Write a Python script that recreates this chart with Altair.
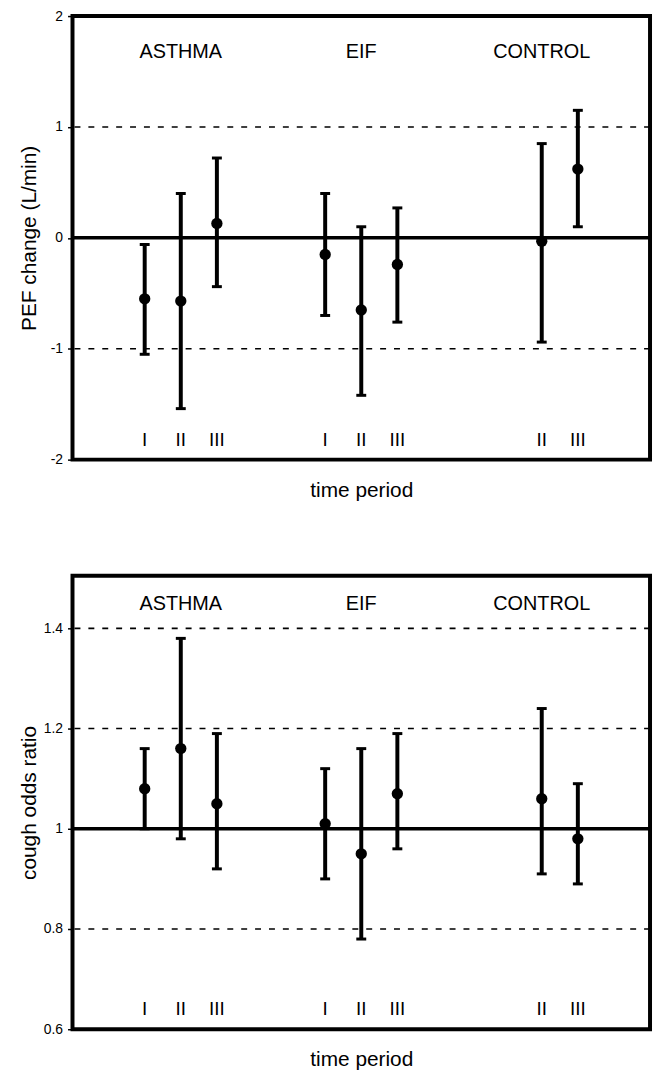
import altair as alt
import pandas as pd

# ---- data ----
groups = ["ASTHMA", "ASTHMA", "ASTHMA", "EIF", "EIF", "EIF", "CONTROL", "CONTROL"]
periods = ["I", "II", "III", "I", "II", "III", "II", "III"]
slot = [0, 1, 2, 5, 6, 7, 11, 12]          # x position of each time period
group_names = ["ASTHMA", "EIF", "CONTROL"]
group_center = [1, 6, 11]

pef_mean = [-0.55, -0.57, 0.13, -0.15, -0.65, -0.24, -0.03, 0.62]
pef_lo = [-1.05, -1.54, -0.44, -0.70, -1.42, -0.76, -0.94, 0.10]
pef_hi = [-0.06, 0.40, 0.72, 0.40, 0.10, 0.27, 0.85, 1.15]

cough_mean = [1.08, 1.16, 1.05, 1.01, 0.95, 1.07, 1.06, 0.98]
cough_lo = [1.00, 0.98, 0.92, 0.90, 0.78, 0.96, 0.91, 0.89]
cough_hi = [1.16, 1.38, 1.19, 1.12, 1.16, 1.19, 1.24, 1.09]

pef_ticks = [-2, -1, 0, 1, 2]
cough_ticks = [0.6, 0.8, 1, 1.2, 1.4]

FONT = "Liberation Sans"


def panel(mean, lo, hi, ytitle, domain, ticks, grid_vals, ref_val, label_y, numeral_y,
          height, title_pad):
    df = pd.DataFrame({"group": groups, "period": periods, "slot": slot,
                       "mean": mean, "lo": lo, "hi": hi, "ny": [numeral_y] * len(slot)})
    gl = pd.DataFrame({"name": group_names, "x": group_center, "y": [label_y] * 3})
    grid = pd.DataFrame({"y": grid_vals})
    ref = pd.DataFrame({"y": [ref_val]})

    xscale = alt.Scale(domain=[-2, 14], nice=False, zero=False)
    xaxis = alt.Axis(labels=False, ticks=False, domain=False, grid=False,
                     title="time period", titleFontSize=21, titleFontWeight="normal",
                     titleFont=FONT, titlePadding=20, titleColor="black")
    yscale = alt.Scale(domain=domain, nice=False, zero=False)
    yaxis = alt.Axis(values=ticks, labelExpr="datum.value + ''", grid=False, domain=False,
                     tickSize=5, tickColor="black", tickWidth=1.5,
                     labelFont=FONT, labelFontSize=14, labelColor="black",
                     labelPadding=5, title=ytitle, titleFont=FONT, titleFontSize=21,
                     titleFontWeight="normal", titleColor="black", titlePadding=title_pad)

    def X(f):
        return alt.X(f, type="quantitative", scale=xscale, axis=xaxis)

    def Y(f):
        return alt.Y(f, type="quantitative", scale=yscale, axis=yaxis)

    g = alt.Chart(grid).mark_rule(color="black", strokeWidth=1.6, strokeDash=[6, 8]).encode(y=Y("y"))
    r = alt.Chart(ref).mark_rule(color="black", strokeWidth=3.5).encode(y=Y("y"))
    bars = alt.Chart(df).mark_rule(color="black", strokeWidth=4).encode(x=X("slot"), y=Y("lo"), y2="hi")
    cap_lo = alt.Chart(df).mark_tick(color="black", size=10, thickness=3, orient="horizontal", opacity=1).encode(x=X("slot"), y=Y("lo"))
    cap_hi = alt.Chart(df).mark_tick(color="black", size=10, thickness=3, orient="horizontal", opacity=1).encode(x=X("slot"), y=Y("hi"))
    pts = alt.Chart(df).mark_circle(color="black", size=130, opacity=1).encode(x=X("slot"), y=Y("mean"))
    labels = alt.Chart(gl).mark_text(font=FONT, fontSize=20, color="black").encode(
        x=X("x"), y=Y("y"), text="name")
    nums = alt.Chart(df).mark_text(font=FONT, fontSize=19, color="black").encode(
        x=X("slot"), y=Y("ny"), text="period")
    return alt.layer(g, r, bars, cap_lo, cap_hi, pts, labels, nums).properties(width=582, height=height)


top = panel(pef_mean, pef_lo, pef_hi, "PEF change (L/min)", [-2, 2], pef_ticks,
            [-1, 1], 0, 1.68, -1.82, 447, 11)
bottom = panel(cough_mean, cough_lo, cough_hi, "cough odds ratio", [0.6, 1.505], cough_ticks,
               [0.8, 1.2, 1.4], 1, 1.448, 0.64, 457, 4)

chart = alt.vconcat(top, bottom, spacing=72).properties(
    padding={"left": 8, "top": -5, "right": 0, "bottom": 0}
).configure(background="white").configure_view(stroke="black", strokeWidth=4)

chart.save("out.html", embed_options={"renderer": "svg", "actions": False})
